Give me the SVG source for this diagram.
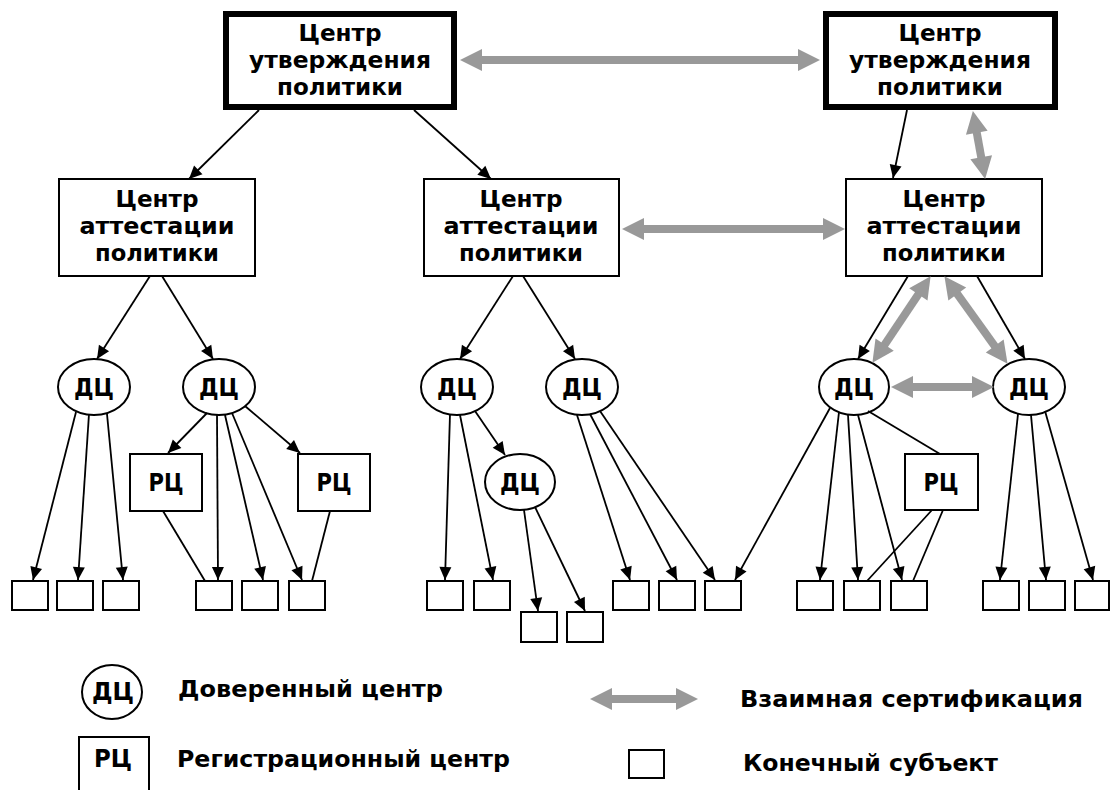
<svg xmlns="http://www.w3.org/2000/svg" width="1110" height="790" viewBox="0 0 1110 790">
<style>
.lbl{font-family:"DejaVu Sans","Liberation Sans",sans-serif;font-weight:bold;font-size:23px;text-anchor:middle;fill:#000}
.leg{font-family:"DejaVu Sans","Liberation Sans",sans-serif;font-weight:bold;font-size:23px;fill:#000}
.sym{font-family:"DejaVu Sans","Liberation Sans",sans-serif;font-weight:bold;font-size:24px;text-anchor:middle;fill:#000}
.box{fill:#fff;stroke:#000;stroke-width:2}
.thick{fill:#fff;stroke:#000;stroke-width:6}
.leaf{fill:#fff;stroke:#000;stroke-width:2}
.ell{fill:#fff;stroke:#000;stroke-width:2}
.edge{stroke:#000;stroke-width:1.8;fill:none}
.arr{marker-end:url(#ah)}
.cross{stroke:#999;stroke-width:8;fill:none;marker-start:url(#gh);marker-end:url(#gh)}
</style>
<defs>
<marker id="ah" markerUnits="userSpaceOnUse" viewBox="-14 -7 15 14" markerWidth="15" markerHeight="14" refX="0" refY="0" orient="auto"><path d="M0,0 L-13,-6 L-13,6 z" fill="#000"/></marker>
<marker id="gh" markerUnits="userSpaceOnUse" viewBox="-2 -12 24 24" markerWidth="24" markerHeight="24" refX="0" refY="0" orient="auto-start-reverse"><path d="M-1,-11 L21,0 L-1,11 z" fill="#999"/></marker>
</defs>
<rect width="1110" height="790" fill="#fff"/>

<g id="pca1">
<rect class="thick" x="226" y="14" width="228" height="93"/>
<text class="lbl" x="340" y="41" textLength="83" lengthAdjust="spacingAndGlyphs">Центр</text>
<text class="lbl" x="340" y="68" textLength="182" lengthAdjust="spacingAndGlyphs">утверждения</text>
<text class="lbl" x="340" y="95" textLength="126" lengthAdjust="spacingAndGlyphs">политики</text>
</g>
<g id="pca2">
<rect class="thick" x="826" y="14" width="229" height="93"/>
<text class="lbl" x="940" y="41" textLength="83" lengthAdjust="spacingAndGlyphs">Центр</text>
<text class="lbl" x="940" y="68" textLength="182" lengthAdjust="spacingAndGlyphs">утверждения</text>
<text class="lbl" x="940" y="95" textLength="126" lengthAdjust="spacingAndGlyphs">политики</text>
</g>
<g id="pcaA">
<rect class="box" x="59" y="179" width="196" height="97"/>
<text class="lbl" x="157" y="207" textLength="83" lengthAdjust="spacingAndGlyphs">Центр</text>
<text class="lbl" x="157" y="234" textLength="155" lengthAdjust="spacingAndGlyphs">аттестации</text>
<text class="lbl" x="157" y="261" textLength="124" lengthAdjust="spacingAndGlyphs">политики</text>
</g>
<g id="pcaB">
<rect class="box" x="424" y="179" width="195" height="97"/>
<text class="lbl" x="521" y="207" textLength="83" lengthAdjust="spacingAndGlyphs">Центр</text>
<text class="lbl" x="521" y="234" textLength="155" lengthAdjust="spacingAndGlyphs">аттестации</text>
<text class="lbl" x="521" y="261" textLength="124" lengthAdjust="spacingAndGlyphs">политики</text>
</g>
<g id="pcaC">
<rect class="box" x="846" y="179" width="196" height="97"/>
<text class="lbl" x="944" y="207" textLength="83" lengthAdjust="spacingAndGlyphs">Центр</text>
<text class="lbl" x="944" y="234" textLength="155" lengthAdjust="spacingAndGlyphs">аттестации</text>
<text class="lbl" x="944" y="261" textLength="124" lengthAdjust="spacingAndGlyphs">политики</text>
</g>

<g id="ca1"><ellipse class="ell" cx="94" cy="387" rx="36" ry="28"/><text class="sym" x="94" y="396" textLength="40" lengthAdjust="spacingAndGlyphs">ДЦ</text></g>
<g id="ca2"><ellipse class="ell" cx="219" cy="387" rx="36" ry="28"/><text class="sym" x="219" y="396" textLength="40" lengthAdjust="spacingAndGlyphs">ДЦ</text></g>
<g id="ca3"><ellipse class="ell" cx="457" cy="387" rx="36" ry="28"/><text class="sym" x="457" y="396" textLength="40" lengthAdjust="spacingAndGlyphs">ДЦ</text></g>
<g id="ca4"><ellipse class="ell" cx="582" cy="387" rx="36" ry="28"/><text class="sym" x="582" y="396" textLength="40" lengthAdjust="spacingAndGlyphs">ДЦ</text></g>
<g id="ca5"><ellipse class="ell" cx="520" cy="482" rx="35" ry="28"/><text class="sym" x="520" y="491" textLength="40" lengthAdjust="spacingAndGlyphs">ДЦ</text></g>
<g id="ca6"><ellipse class="ell" cx="854" cy="387" rx="35" ry="28"/><text class="sym" x="854" y="396" textLength="40" lengthAdjust="spacingAndGlyphs">ДЦ</text></g>
<g id="ca7"><ellipse class="ell" cx="1029" cy="387" rx="36" ry="28"/><text class="sym" x="1029" y="396" textLength="40" lengthAdjust="spacingAndGlyphs">ДЦ</text></g>

<g id="ra1"><rect class="box" x="130" y="454" width="72" height="57"/><text class="sym" x="166" y="491" textLength="35" lengthAdjust="spacingAndGlyphs">РЦ</text></g>
<g id="ra2"><rect class="box" x="298" y="454" width="72" height="57"/><text class="sym" x="334" y="491" textLength="35" lengthAdjust="spacingAndGlyphs">РЦ</text></g>
<g id="ra3"><rect class="box" x="905" y="454" width="73" height="56"/><text class="sym" x="941" y="491" textLength="35" lengthAdjust="spacingAndGlyphs">РЦ</text></g>

<g id="leaves">
<rect id="e1" class="leaf" x="12" y="581" width="36" height="29"/>
<rect id="e2" class="leaf" x="57" y="581" width="36" height="29"/>
<rect id="e3" class="leaf" x="103" y="581" width="36" height="29"/>
<rect id="e4" class="leaf" x="196" y="581" width="36" height="29"/>
<rect id="e5" class="leaf" x="242" y="581" width="36" height="29"/>
<rect id="e6" class="leaf" x="289" y="581" width="36" height="29"/>
<rect id="e7" class="leaf" x="427" y="581" width="36" height="29"/>
<rect id="e8" class="leaf" x="474" y="581" width="36" height="29"/>
<rect id="e9" class="leaf" x="521" y="612" width="36" height="30"/>
<rect id="e10" class="leaf" x="567" y="612" width="36" height="30"/>
<rect id="e11" class="leaf" x="613" y="581" width="36" height="29"/>
<rect id="e12" class="leaf" x="659" y="581" width="36" height="29"/>
<rect id="e13" class="leaf" x="705" y="581" width="36" height="29"/>
<rect id="e14" class="leaf" x="797" y="581" width="36" height="29"/>
<rect id="e15" class="leaf" x="844" y="581" width="36" height="29"/>
<rect id="e16" class="leaf" x="891" y="581" width="36" height="29"/>
<rect id="e17" class="leaf" x="983" y="581" width="36" height="29"/>
<rect id="e18" class="leaf" x="1029" y="581" width="36" height="29"/>
<rect id="e19" class="leaf" x="1075" y="581" width="34" height="29"/>
</g>

<g id="connectors">
<line class="edge arr" x1="259" y1="110" x2="189" y2="179"/>
<line class="edge arr" x1="414" y1="110" x2="491" y2="179"/>
<line class="edge arr" x1="907" y1="110" x2="893" y2="178"/>
<line class="edge arr" x1="150" y1="276" x2="97" y2="359"/>
<line class="edge arr" x1="162" y1="276" x2="213" y2="359"/>
<line class="edge arr" x1="513" y1="276" x2="460" y2="359"/>
<line class="edge arr" x1="523" y1="276" x2="575" y2="359"/>
<line class="edge arr" x1="908" y1="276" x2="858" y2="359"/>
<line class="edge arr" x1="977" y1="276" x2="1025" y2="359"/>

<line class="edge arr" x1="76" y1="412" x2="33" y2="580"/>
<line class="edge arr" x1="89" y1="414" x2="78" y2="580"/>
<line class="edge arr" x1="107" y1="414" x2="123" y2="580"/>

<line class="edge arr" x1="207" y1="413" x2="168" y2="453"/>
<line class="edge arr" x1="217" y1="415" x2="218" y2="580"/>
<line class="edge arr" x1="225" y1="415" x2="263" y2="580"/>
<line class="edge arr" x1="232" y1="413" x2="302" y2="580"/>
<line class="edge arr" x1="245" y1="406" x2="300" y2="453"/>
<line class="edge" x1="163" y1="511" x2="205" y2="581"/>
<line class="edge" x1="330" y1="511" x2="312" y2="581"/>

<line class="edge arr" x1="450" y1="414" x2="445" y2="580"/>
<line class="edge arr" x1="460" y1="415" x2="493" y2="580"/>
<line class="edge arr" x1="475" y1="411" x2="505" y2="455"/>
<line class="edge arr" x1="524" y1="510" x2="538" y2="611"/>
<line class="edge arr" x1="535" y1="507" x2="585" y2="611"/>
<line class="edge arr" x1="577" y1="415" x2="630" y2="580"/>
<line class="edge arr" x1="590" y1="414" x2="677" y2="580"/>
<line class="edge arr" x1="600" y1="411" x2="715" y2="580"/>

<line class="edge arr" x1="830" y1="408" x2="735" y2="580"/>
<line class="edge arr" x1="839" y1="412" x2="820" y2="580"/>
<line class="edge arr" x1="848" y1="415" x2="858" y2="580"/>
<line class="edge arr" x1="858" y1="415" x2="902" y2="580"/>
<line class="edge" x1="868" y1="411" x2="940" y2="454"/>
<line class="edge" x1="932" y1="510" x2="867" y2="581"/>
<line class="edge" x1="943" y1="510" x2="913" y2="581"/>
<line class="edge arr" x1="1018" y1="414" x2="1000" y2="580"/>
<line class="edge arr" x1="1031" y1="415" x2="1046" y2="580"/>
<line class="edge arr" x1="1045" y1="411" x2="1093" y2="580"/>

<line class="cross" x1="481" y1="60" x2="799" y2="60"/>
<line class="cross" x1="643" y1="229" x2="824" y2="229"/>
<line class="cross" x1="976.6" y1="131.7" x2="981.4" y2="158.3"/>
<line class="cross" x1="918.9" y1="293.6" x2="884.1" y2="345.4"/>
<line class="cross" x1="956.7" y1="293.2" x2="995.3" y2="346.8"/>
<line class="cross" x1="912" y1="387" x2="973" y2="387"/>
</g>

<g id="legend">
<g id="leg-ca"><ellipse class="ell" cx="112" cy="692" rx="30" ry="27"/><text class="sym" x="113" y="700" textLength="42" lengthAdjust="spacingAndGlyphs">ДЦ</text>
<text class="leg" x="178" y="697" textLength="265" lengthAdjust="spacingAndGlyphs">Доверенный центр</text></g>
<g id="leg-ra"><path d="M79,795 V737 H149 V795" fill="#fff" stroke="#000" stroke-width="2"/><text class="sym" x="113" y="767" textLength="38" lengthAdjust="spacingAndGlyphs">РЦ</text>
<text class="leg" x="177" y="767" textLength="333" lengthAdjust="spacingAndGlyphs">Регистрационный центр</text></g>
<g id="leg-cross"><line class="cross" x1="611" y1="699" x2="677" y2="699"/>
<text class="leg" x="740" y="707" textLength="343" lengthAdjust="spacingAndGlyphs">Взаимная сертификация</text></g>
<g id="leg-leaf"><rect class="leaf" x="629" y="750" width="35" height="28"/>
<text class="leg" x="743" y="771" textLength="255" lengthAdjust="spacingAndGlyphs">Конечный субъект</text></g>
</g>
</svg>
